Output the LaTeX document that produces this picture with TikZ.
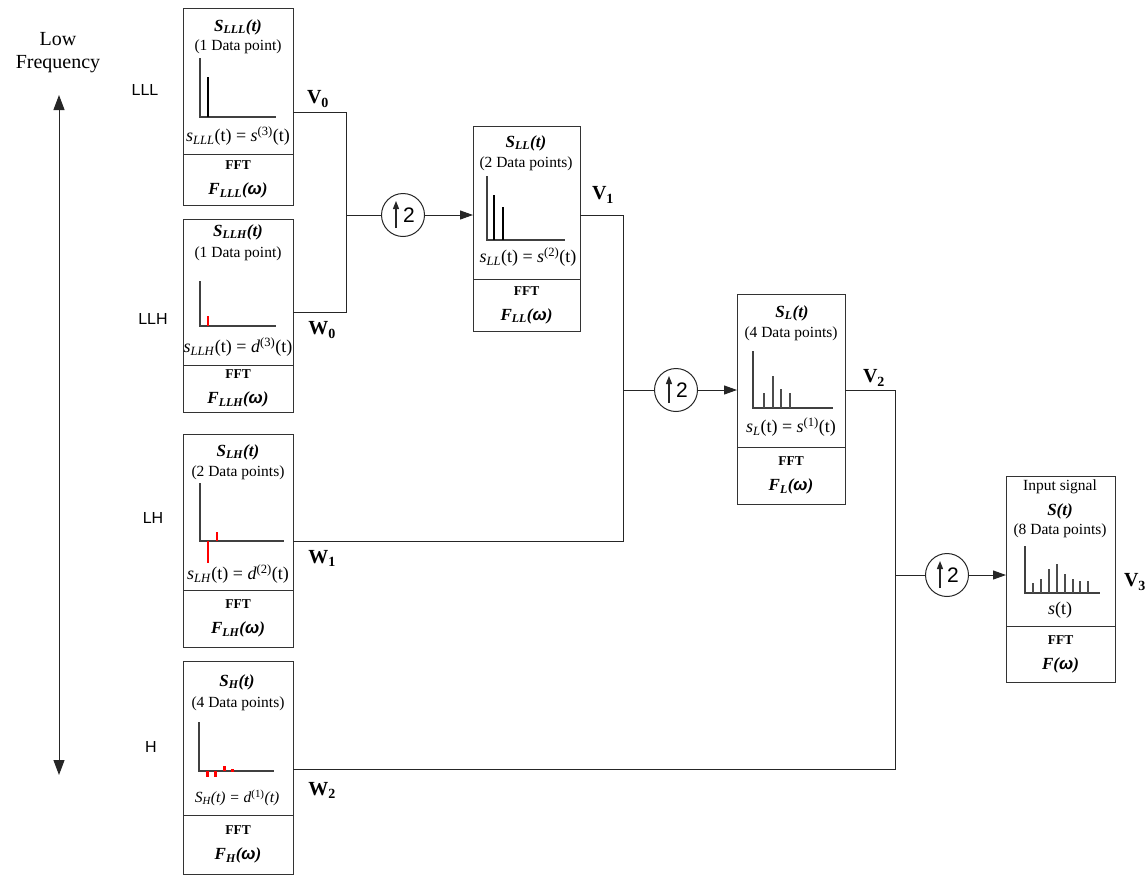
\documentclass[tikz,border=0pt]{standalone}
\usepackage{fontspec}
\setmainfont{Liberation Serif}
\newfontfamily\arialfont{Liberation Sans}
\usetikzlibrary{positioning,arrows.meta}

\tikzset{
  wire/.style={draw=black!85, line width=1pt},
  arr/.style={wire, -{Triangle[length=13pt,width=9pt]}},
  upbox/.style={draw=black!80, line width=1pt, minimum width=110pt, inner sep=0pt, outer sep=0pt},
  fftbox/.style={upbox, align=center, font=\fontsize{17}{25}\selectfont\bfseries\itshape},
  ttl/.style={inner sep=0pt, font=\fontsize{17}{17}\selectfont\bfseries\itshape},
  pts/.style={inner sep=0pt, font=\fontsize{15.5}{15.5}\selectfont},
  frm/.style={inner sep=0pt, font=\fontsize{18}{18}\selectfont},
  lvl/.style={inner sep=0pt, font=\arialfont\fontsize{16}{16}\selectfont},
  vw/.style={inner sep=0pt, font=\fontsize{20}{20}\selectfont\bfseries},
  axis/.style={draw=black!75, line width=1.5pt},
  spk/.style={draw=black, line width=2pt},
  gspk/.style={draw=black!70, line width=1.5pt},
  dspk/.style={draw=red, line width=2pt},
  upsmp/.style={circle, draw=black!85, line width=1pt, minimum size=43pt, inner sep=0pt,
    font=\arialfont\fontsize{21}{21}\selectfont,
    path picture={\draw[line width=1.2pt,-{Triangle[length=8pt,width=6pt]}]
      ([xshift=-7pt,yshift=-13pt]path picture bounding box.center) -- ++(0,27pt);}},
}

\begin{document}
\begin{tikzpicture}[x=1pt, y=-1pt]
\useasboundingbox (0,0) rectangle (1146,876);

% frequency axis
\node[font=\fontsize{20}{23}\selectfont, align=center, inner sep=0pt] (freq) at (58,53) {Low\\Frequency};
\coordinate (ftop) at (59,95);
\coordinate (fbot) at (59,775);
\draw[wire, {Triangle[length=15pt,width=11pt]}-{Triangle[length=15pt,width=11pt]}] (ftop) -- (fbot);

\node[lvl] (lvLLL) at (145,90) {LLL};
\node[lvl] (lvLLH) at (153,319) {LLH};
\node[lvl] (lvLH) at (153,518) {LH};
\node[lvl] (lvH) at (151,747) {H};

% LLL
\node[upbox, minimum height=146pt] (sLLL) at (238,81) {};
\node[fftbox, minimum height=51pt, below=0pt of sLLL] (fLLL) {{\upshape\fontsize{13.5}{25}\selectfont FFT}\\F\textsubscript{LLL}({\arialfont ω})};
\node[ttl] (tLLL) at (238,27) {S\textsubscript{LLL}(t)};
\node[pts] (dLLL) at (238,47) {(1 Data point)};
\draw[axis] (200,58) |- (276,117);
\draw[spk] (208,77) -- (208,117);
\node[frm] (eLLL) at (238,136) {\textit{s}\textsubscript{\textit{LLL}}(t) = \textit{s}\textsuperscript{(3)}(t)};

% LLH
\node[upbox, minimum height=146pt] (sLLH) at (238,292) {};
\node[fftbox, minimum height=47pt, below=0pt of sLLH] (fLLH) {{\upshape\fontsize{13.5}{25}\selectfont FFT}\\F\textsubscript{LLH}({\arialfont ω})};
\node[ttl] (tLLH) at (238,232) {S\textsubscript{LLH}(t)};
\node[pts] (dLLH) at (238,254) {(1 Data point)};
\draw[axis] (200,281) |- (276,326);
\draw[dspk] (208,316) -- (208,326);
\node[frm] (eLLH) at (238,347) {\textit{s}\textsubscript{\textit{LLH}}(t) = \textit{d}\textsuperscript{(3)}(t)};

% LH
\node[upbox, minimum height=156pt] (sLH) at (238,512) {};
\node[fftbox, minimum height=57pt, below=0pt of sLH] (fLH) {{\upshape\fontsize{13.5}{25}\selectfont FFT}\\F\textsubscript{LH}({\arialfont ω})};
\node[ttl] (tLH) at (238,452) {S\textsubscript{LH}(t)};
\node[pts] (dLH) at (238,473) {(2 Data points)};
\draw[axis] (200,483) |- (284,541);
\draw[dspk] (208,541) -- (208,563);
\draw[dspk] (217,532) -- (217,541);
\node[frm] (eLH) at (238,574) {\textit{s}\textsubscript{\textit{LH}}(t) = \textit{d}\textsuperscript{(2)}(t)};

% H
\node[upbox, minimum height=154pt] (sH) at (238,738) {};
\node[fftbox, minimum height=59pt, below=0pt of sH] (fH) {{\upshape\fontsize{13.5}{25}\selectfont FFT}\\F\textsubscript{H}({\arialfont ω})};
\node[ttl] (tH) at (237,682) {S\textsubscript{H}(t)};
\node[pts] (dH) at (238,704) {(4 Data points)};
\draw[axis] (199,722) |- (274,771);
\draw[red, line width=3pt] (207,771) -- (207,777) (215,771) -- (215,777)
  (224,766) -- (224,771) (232,769) -- (232,772);
\node[frm, font=\fontsize{15.5}{15.5}\selectfont\itshape] (eH) at (237,798) {S\textsubscript{H}(t) = d\textsuperscript{\upshape(1)}(t)};

% LL
\node[upbox, minimum width=107pt, minimum height=153pt] (sLL) at (526.5,202.5) {};
\node[fftbox, minimum width=107pt, minimum height=52pt, below=0pt of sLL] (fLL) {{\upshape\fontsize{13.5}{25}\selectfont FFT}\\F\textsubscript{LL}({\arialfont ω})};
\node[ttl] (tLL) at (526,143) {S\textsubscript{LL}(t)};
\node[pts] (dLL) at (526,164) {(2 Data points)};
\draw[axis] (487,176) |- (565,240);
\draw[spk] (494,195) -- (494,240);
\draw[spk] (503,207) -- (503,240);
\node[frm] (eLL) at (528,257) {\textit{s}\textsubscript{\textit{LL}}(t) = \textit{s}\textsuperscript{(2)}(t)};

% L
\node[upbox, minimum width=108pt, minimum height=153pt] (sL) at (791,370.5) {};
\node[fftbox, minimum width=108pt, minimum height=57pt, below=0pt of sL] (fL) {{\upshape\fontsize{13.5}{25}\selectfont FFT}\\F\textsubscript{L}({\arialfont ω})};
\node[ttl] (tL) at (792,313) {S\textsubscript{L}(t)};
\node[pts] (dL) at (791,334) {(4 Data points)};
\draw[axis] (753,351) |- (833,408);
\foreach \x/\h in {764/15, 773/32, 781/19, 790/15}
  \draw[gspk] (\x,408) -- ++(0,-\h);
\node[frm] (eL) at (791,427) {\textit{s}\textsubscript{\textit{L}}(t) = \textit{s}\textsuperscript{(1)}(t)};

% input signal
\node[upbox, minimum width=109pt, minimum height=150pt] (sIn) at (1060.5,551) {};
\node[fftbox, minimum width=109pt, minimum height=56pt, below=0pt of sIn] (fIn) {{\upshape\fontsize{13.5}{25}\selectfont FFT}\\F({\arialfont ω})};
\node[pts] (iIn) at (1060,487) {Input signal};
\node[ttl] (tIn) at (1060,511) {S(t)};
\node[pts] (dIn) at (1060,531) {(8 Data points)};
\draw[axis] (1025,546) |- (1100,593);
\foreach \x/\h in {1033/10, 1041/14, 1049/24, 1057/29, 1065/19, 1073/14, 1080/12, 1088/12}
  \draw[gspk] (\x,593) -- ++(0,-\h);
\node[frm] (eIn) at (1060,610) {\textit{s}(t)};

% upsampling
\node[upsmp] (c1) at (403,215) {\hspace*{12pt}2};
\node[upsmp] (c2) at (676,390) {\hspace*{12pt}2};
\node[upsmp] (c3) at (947,575) {\hspace*{12pt}2};

\coordinate (v0) at (346,112);
\coordinate (w0) at (346,312);
\draw[wire] (sLLL.east |- v0) -- (v0) -- (w0) -- (sLLH.east |- w0);
\draw[wire] (v0 |- c1) -- (c1);
\draw[arr] (c1) -- (c1 -| sLL.west);

\coordinate (v1) at (623,215);
\coordinate (w1) at (623,541);
\draw[wire] (sLL.east |- v1) -- (v1) -- (w1) -- (sLH.east |- w1);
\draw[wire] (v1 |- c2) -- (c2);
\draw[arr] (c2) -- (c2 -| sL.west);

\coordinate (v2) at (895,390);
\coordinate (w2) at (895,769);
\draw[wire] (sL.east |- v2) -- (v2) -- (w2) -- (sH.east |- w2);
\draw[wire] (v2 |- c3) -- (c3);
\draw[arr] (c3) -- (c3 -| sIn.west);

\node[vw] (lbV0) at (318,99) {V\textsubscript{0}};
\node[vw] (lbW0) at (322,330) {W\textsubscript{0}};
\node[vw] (lbV1) at (603,195) {V\textsubscript{1}};
\node[vw] (lbW1) at (322,558) {W\textsubscript{1}};
\node[vw] (lbV2) at (874,378) {V\textsubscript{2}};
\node[vw] (lbW2) at (322,790) {W\textsubscript{2}};
\node[vw] (lbV3) at (1135,582) {V\textsubscript{3}};
\end{tikzpicture}
\end{document}
